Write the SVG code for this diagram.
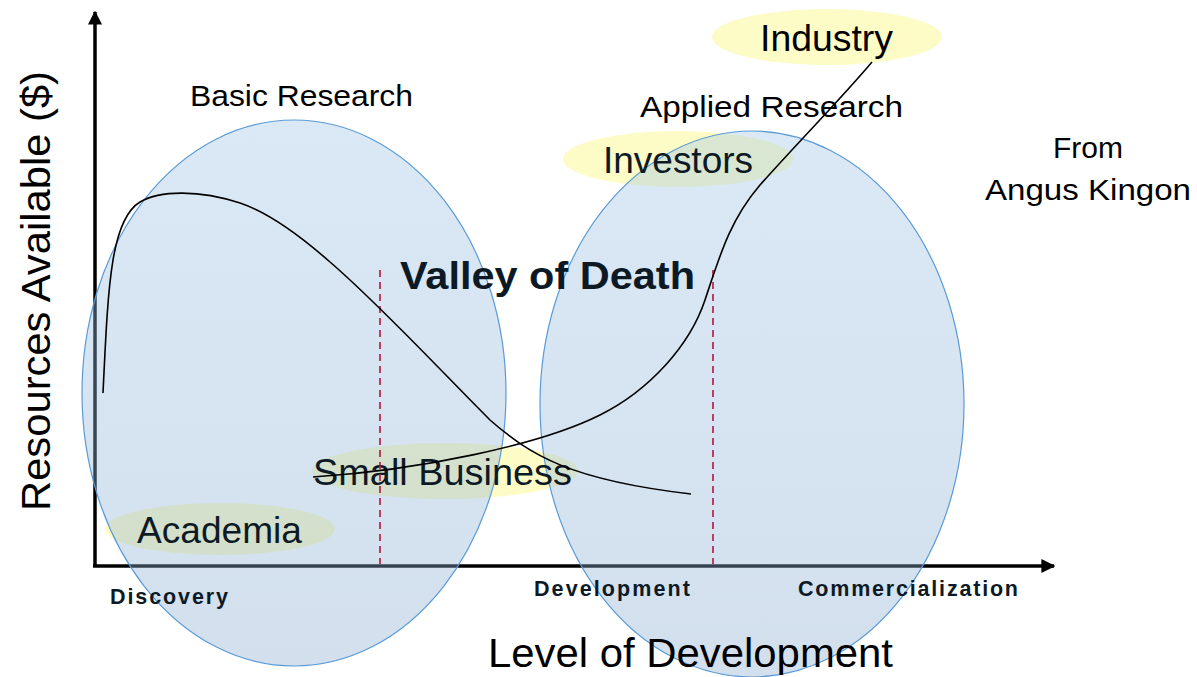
<svg xmlns="http://www.w3.org/2000/svg" width="1197" height="677" viewBox="0 0 1197 677">
<defs>
<style>
.lbl{font-family:"Liberation Sans",Arial,sans-serif;fill:#0d1a26}
.cal{font-family:"Liberation Sans",Arial,sans-serif;fill:#000}
.stage{font-family:"Liberation Sans",Arial,sans-serif;font-weight:bold;font-size:21.5px;fill:#0d1a26}
.hl{fill:#fdfcc6}
.zone{fill:url(#zg);stroke:#5b9bd5;stroke-width:1.2}
.curve{fill:none;stroke:#000;stroke-width:1.6}
.div{stroke:#b3163f;stroke-width:1.6;stroke-dasharray:7 5}
.axis{stroke:#000;stroke-width:3.5;fill:none}
</style>
<linearGradient id="zg" x1="0" y1="0" x2="0" y2="1">
<stop offset="0" stop-color="#9fc5e8" stop-opacity="0.38"/>
<stop offset="1" stop-color="#8aabcf" stop-opacity="0.38"/>
</linearGradient>
<marker id="ah" viewBox="0 0 10 10" refX="9" refY="5" markerWidth="4" markerHeight="4" orient="auto" markerUnits="strokeWidth">
<path d="M0,0 L10,5 L0,10 z" fill="#000"/>
</marker>
</defs>
<rect width="1197" height="677" fill="#fff"/>

<g id="highlights">
<ellipse class="hl" cx="827" cy="37" rx="115" ry="28"/>
<ellipse class="hl" cx="678" cy="159" rx="115" ry="28"/>
<ellipse class="hl" cx="445" cy="471" rx="133" ry="28"/>
<ellipse class="hl" cx="220" cy="529" rx="115" ry="26"/>
</g>

<g id="axes">
<line class="axis" x1="95" y1="567" x2="95" y2="12" marker-end="url(#ah)"/>
<line class="axis" x1="93" y1="566" x2="1054" y2="566" marker-end="url(#ah)"/>
</g>

<g id="node-basic-research">
<ellipse class="zone" cx="294" cy="393" rx="212" ry="273"/>
<text class="cal" x="190" y="106" font-size="30" textLength="223" lengthAdjust="spacingAndGlyphs">Basic Research</text>
</g>
<g id="node-applied-research">
<ellipse class="zone" cx="752" cy="404" rx="212" ry="273"/>
<text class="cal" x="640" y="117" font-size="30" textLength="263" lengthAdjust="spacingAndGlyphs">Applied Research</text>
</g>

<g id="axis-labels">
<text class="cal" transform="translate(50,511) rotate(-90)" font-size="40" textLength="440" lengthAdjust="spacingAndGlyphs">Resources Available ($)</text>
<text class="cal" x="488" y="667" font-size="40" textLength="405" lengthAdjust="spacingAndGlyphs">Level of Development</text>
<text class="stage" x="110" y="604" textLength="118" lengthAdjust="spacing">Discovery</text>
<text class="stage" x="534" y="596" textLength="156" lengthAdjust="spacing">Development</text>
<text class="stage" x="798" y="596" textLength="220" lengthAdjust="spacing">Commercialization</text>
</g>

<g id="node-industry"><text class="cal" x="760" y="51" font-size="36" textLength="133" lengthAdjust="spacingAndGlyphs">Industry</text></g>
<g id="node-investors"><text class="lbl" x="603" y="173" font-size="36" textLength="150" lengthAdjust="spacingAndGlyphs">Investors</text></g>
<g id="node-small-business"><text class="lbl" x="313" y="485" font-size="36" textLength="259" lengthAdjust="spacingAndGlyphs">Small Business</text></g>
<g id="node-academia"><text class="lbl" x="137" y="543" font-size="36" textLength="165" lengthAdjust="spacingAndGlyphs">Academia</text></g>

<g id="node-valley"><text class="lbl" x="400" y="289" font-size="39" font-weight="bold" textLength="295" lengthAdjust="spacingAndGlyphs">Valley of Death</text></g>

<g id="node-credit">
<text class="cal" x="1088" y="158" font-size="30" text-anchor="middle">From</text>
<text class="cal" x="1088" y="200" font-size="30" text-anchor="middle" textLength="206" lengthAdjust="spacingAndGlyphs">Angus Kingon</text>
</g>

<g id="connectors">
<line class="div" x1="380" y1="270" x2="380" y2="564"/>
<line class="div" x1="713" y1="270" x2="713" y2="564"/>
<path class="curve" d="M103,393 C108,290 110,220 140,202 C160,190 200,190 240,203 C270,213 305,240 330,262 C380,305 440,370 490,420 C530,455 570,480 691,494"/>
<path class="curve" d="M313,477 C420,470 540,445 600,415 C650,390 690,345 705,300 C720,255 730,220 760,185 C800,140 840,100 872,62"/>
</g>
</svg>
